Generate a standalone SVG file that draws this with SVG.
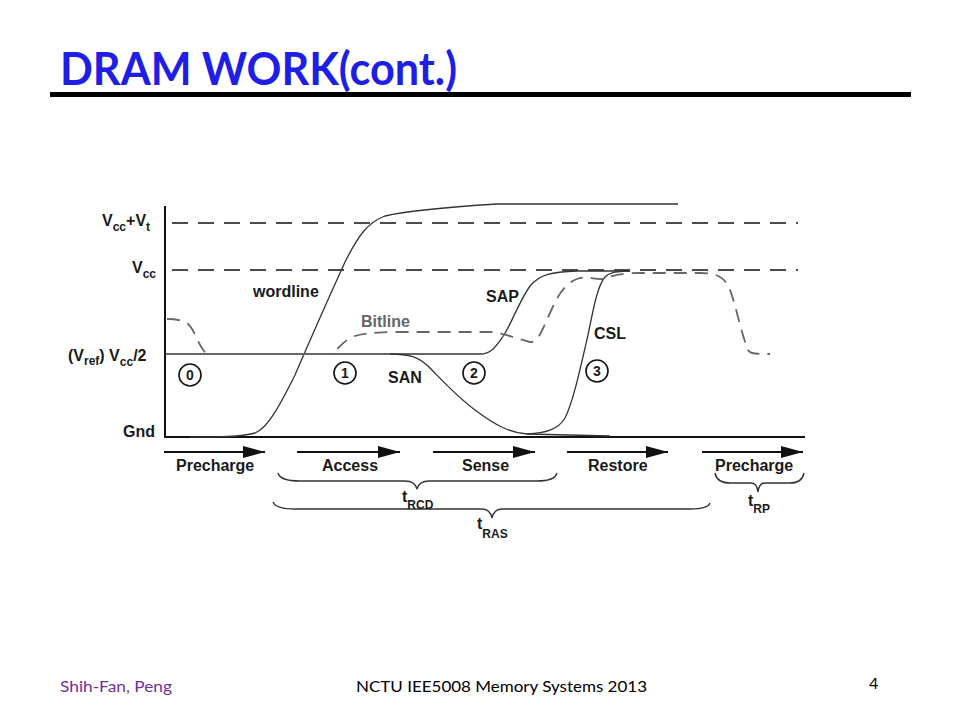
<svg xmlns="http://www.w3.org/2000/svg" width="960" height="720" viewBox="0 0 960 720">
<defs>
<style>
.lbl{font-family:"Liberation Sans",Arial,Helvetica,sans-serif;font-weight:bold;font-size:16px;fill:#1a1a1a}
.sub{font-size:12px}
.num{font-family:"Liberation Sans",Arial,sans-serif;font-weight:bold;font-size:14px;fill:#1a1a1a;text-anchor:middle}
.wave{fill:none;stroke:#333;stroke-width:1.3}
.bit{fill:none;stroke:#666;stroke-width:1.8;stroke-dasharray:13 8}
.ref{fill:none;stroke:#111;stroke-width:1.6;stroke-dasharray:16 10}
.axis{fill:none;stroke:#111;stroke-width:2}
.arr{fill:none;stroke:#111;stroke-width:2}
.brace{fill:none;stroke:#333;stroke-width:1.4}
.circ{fill:#fff;stroke:#111;stroke-width:1.6}
.foot{font-family:Lato,"Liberation Sans",sans-serif;font-size:16px}
</style>
<marker id="ah" viewBox="0 0 22 12" refX="22" refY="6" markerWidth="22" markerHeight="12" markerUnits="userSpaceOnUse" orient="auto">
<path d="M0,0 L22,6 L0,12 Z" fill="#111"/>
</marker>
</defs>
<rect width="960" height="720" fill="#fff"/>

<g id="title">
<text x="60" y="85" font-family="Lato,'Liberation Sans',sans-serif" font-weight="bold" font-size="46" fill="#1E1EE6" textLength="397" lengthAdjust="spacingAndGlyphs">DRAM WORK(cont.)</text>
<rect x="50" y="92" width="861" height="5" fill="#000"/>
</g>

<g id="axes">
<path class="axis" d="M165,206 L165,437 L805,437"/>
<path class="ref" d="M172,223 L798,223"/>
<path class="ref" d="M172,270 L798,270"/>
</g>

<g id="axis-labels">
<text class="lbl" x="102" y="226">V<tspan class="sub" dy="5">cc</tspan><tspan dy="-5">+V</tspan><tspan class="sub" dy="5">t</tspan></text>
<text class="lbl" x="132" y="273">V<tspan class="sub" dy="5">cc</tspan></text>
<text class="lbl" x="68" y="361">(V<tspan class="sub" dy="4">ref</tspan><tspan dy="-4">)  V</tspan><tspan class="sub" dy="5">cc</tspan><tspan dy="-5">/2</tspan></text>
<text class="lbl" x="123" y="437">Gnd</text>
</g>

<g id="connectors">
<path id="wordline-wave" class="wave" d="M190,437 C220,437 240,437 255,433 C268,428 280,405 295,375 C310,340 330,295 345,262 C358,236 368,222 385,216 C410,210 450,207 497,204 L678,204"/>
<path id="sap-wave" class="wave" d="M165,354 L480,354 C492,354 497,345 504,335 C512,322 520,300 530,286 C540,274 552,272 577,271 L630,271"/>
<path id="san-wave" class="wave" d="M390,354 C410,354 418,357 428,366 C440,378 455,395 475,410 C495,425 510,433 527,434 L610,436"/>
<path id="csl-wave" class="wave" d="M527,434 C545,433 558,430 565,418 C573,402 580,370 588,335 C594,305 598,285 605,277 C610,272 615,272 630,271"/>
<path id="bitline-wave" class="bit" d="M167,319 C175,319 182,320 188,324 C195,330 198,345 205,352 C208,354 212,354 220,354 L330,354 C338,350 342,342 352,337 C362,333 372,333 390,332 L490,332 C505,333 520,340 530,342 C538,343 542,330 550,313 C558,295 565,282 580,278 C590,276 595,280 603,279 C612,276 620,273 640,273 L700,273 C715,273 722,276 728,285 C735,300 740,330 748,350 C750,354 755,354 770,354"/>
</g>

<g id="signal-labels">
<text class="lbl" x="253" y="297">wordline</text>
<text class="lbl" x="361" y="327" style="fill:#666">Bitline</text>
<text class="lbl" x="486" y="302">SAP</text>
<text class="lbl" x="594" y="339">CSL</text>
<text class="lbl" x="388" y="383">SAN</text>
</g>

<g id="step-0"><circle class="circ" cx="190" cy="375" r="11"/><text class="num" x="190" y="380">0</text></g>
<g id="step-1"><circle class="circ" cx="345" cy="373" r="11"/><text class="num" x="345" y="378">1</text></g>
<g id="step-2"><circle class="circ" cx="474" cy="373" r="11"/><text class="num" x="474" y="378">2</text></g>
<g id="step-3"><circle class="circ" cx="597" cy="371" r="11"/><text class="num" x="597" y="376">3</text></g>

<g id="phases">
<path class="arr" marker-end="url(#ah)" d="M164,452 L265,452"/>
<path class="arr" marker-end="url(#ah)" d="M297,452 L400,452"/>
<path class="arr" marker-end="url(#ah)" d="M433,452 L535,452"/>
<path class="arr" marker-end="url(#ah)" d="M567,452 L668,452"/>
<path class="arr" marker-end="url(#ah)" d="M702,452 L803,452"/>
<text class="lbl" x="176" y="471">Precharge</text>
<text class="lbl" x="322" y="471">Access</text>
<text class="lbl" x="462" y="471">Sense</text>
<text class="lbl" x="588" y="471">Restore</text>
<text class="lbl" x="715" y="471">Precharge</text>
</g>

<g id="timings">
<path class="brace" d="M278,473 Q280,481 300,481 L405,481 Q415,481 417,489 Q419,481 429,481 L537,481 Q555,481 557,473"/>
<path class="brace" d="M273,502 Q276,509 295,509 L482,509 Q490,509 492,518 Q494,509 502,509 L690,509 Q708,509 710,503"/>
<path class="brace" d="M715,473 Q717,483 730,483 L751,483 Q757,483 758,492 Q759,483 765,483 L790,483 Q802,483 804,473"/>
<text class="lbl" x="402" y="502">t<tspan class="sub" dy="7">RCD</tspan></text>
<text class="lbl" x="477" y="529">t<tspan class="sub" dy="9">RAS</tspan></text>
<text class="lbl" x="748" y="506">t<tspan class="sub" dy="7">RP</tspan></text>
</g>

<g id="footer">
<text class="foot" x="60" y="692" fill="#7030A0" textLength="112" lengthAdjust="spacingAndGlyphs">Shih-Fan, Peng</text>
<text class="foot" x="356" y="692" fill="#000" textLength="291" lengthAdjust="spacingAndGlyphs">NCTU IEE5008 Memory Systems 2013</text>
<text class="foot" x="869" y="689" fill="#000" font-size="20">4</text>
</g>
</svg>
